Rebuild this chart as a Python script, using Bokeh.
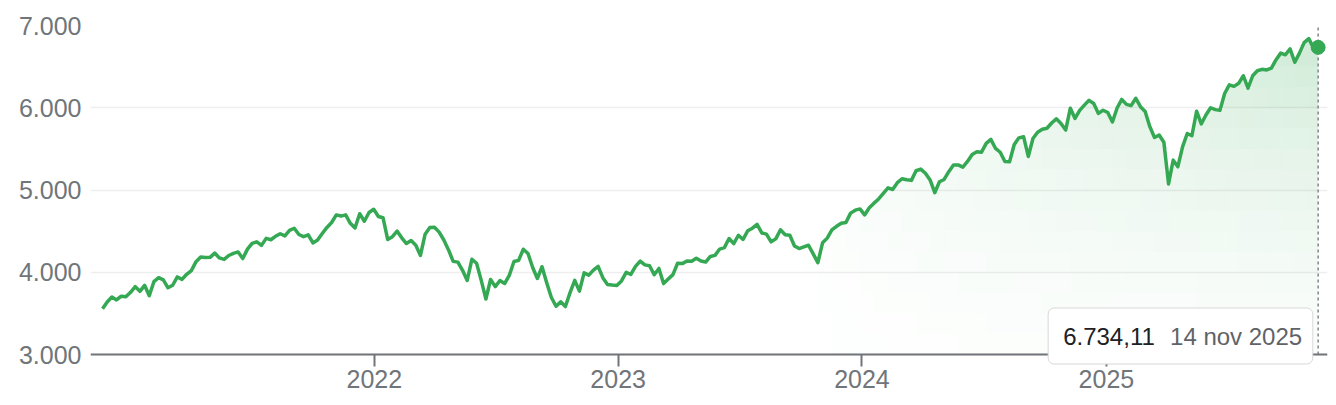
import numpy as np
import pandas as pd
from bokeh.plotting import figure
from bokeh.models import FixedTicker, DatetimeTickFormatter, Label
from bokeh.embed import file_html
from bokeh.resources import INLINE

# ---------------- data ----------------
start_date = "2020-11-20"
end_date = "2025-11-14"
closes_2020 = [3557, 3638, 3699, 3663, 3709, 3703, 3756]
closes_2021 = [3825, 3768, 3841, 3714, 3887, 3934, 3907, 3811, 3842, 3943, 3913, 3975,
               4020, 4129, 4185, 4180, 4181, 4233, 4174, 4156, 4204, 4230, 4247, 4166, 4281,
               4352, 4370, 4327, 4412, 4395, 4437, 4468, 4442, 4509, 4535, 4459, 4433, 4455,
               4357, 4391, 4471, 4545, 4605, 4697, 4683, 4698, 4595, 4538, 4712, 4620, 4726, 4766]
closes_2022 = [4677, 4662, 4398, 4432, 4500, 4419, 4349, 4385, 4329, 4204, 4463, 4543,
               4546, 4488, 4392, 4272, 4132, 4123, 4024, 3901, 4158, 4109, 3901, 3675, 3912,
               3825, 3899, 3863, 3962, 4130, 4145, 4280, 4228, 4058, 3924, 4067, 3873, 3693, 3586,
               3640, 3583, 3752, 3901, 3771, 3993, 3965, 4026, 4072, 3934, 3852, 3845, 3840]
closes_2023 = [3895, 3999, 3973, 4071, 4136, 4090, 4079, 3970, 4046, 3862, 3917, 3971, 4109,
               4105, 4137, 4133, 4169, 4136, 4124, 4192, 4205, 4282, 4299, 4410, 4348, 4450,
               4399, 4505, 4536, 4582, 4478, 4464, 4370, 4406, 4516, 4457, 4450, 4320, 4288,
               4308, 4328, 4224, 4117, 4358, 4415, 4514, 4559, 4595, 4604, 4719, 4755, 4770]
closes_2024 = [4697, 4784, 4840, 4891, 4959, 5026, 5006, 5089, 5137, 5124, 5117, 5234, 5254,
               5204, 5123, 4967, 5100, 5128, 5223, 5303, 5305, 5278, 5347, 5432, 5465, 5460,
               5567, 5615, 5505, 5459, 5346, 5344, 5554, 5634, 5648, 5408, 5626, 5703, 5738,
               5751, 5815, 5865, 5808, 5729, 5995, 5870, 5969, 6032, 6090, 6051, 5931, 5970]
closes_2025 = [5942, 5827, 5997, 6101, 6041, 6026, 6115, 6013, 5955, 5770, 5639, 5668, 5581,
               5074, 5363, 5283, 5525, 5687, 5660, 5958, 5803, 5912, 6000, 5977, 5968, 6173,
               6279, 6260, 6297, 6389, 6238, 6389, 6450, 6467, 6460, 6482, 6584, 6664, 6644,
               6716, 6553, 6664, 6792, 6840, 6728, 6734.11]

y_ticks = [3000, 4000, 5000, 6000, 7000]
y_tick_labels = ["3.000", "4.000", "5.000", "6.000", "7.000"]
x_tick_years = [2022, 2023, 2024, 2025]
tooltip_value = "6.734,11"
tooltip_date = "14 nov 2025"

closes = closes_2020 + closes_2021 + closes_2022 + closes_2023 + closes_2024 + closes_2025
dates = pd.date_range(start_date, end_date, freq="7D")
assert len(dates) == len(closes), (len(dates), len(closes))
vals = np.array(closes, dtype=float)

GREEN = "#34a853"
GREY = "#70757a"
FONT = "Liberation Sans"

# frame spans the whole lower area so the tooltip can overlap the x axis;
# the x axis itself is pinned at y = 3000 (329 px for 4000 units)
Y_BASE = y_ticks[0]
Y_TOP = y_ticks[-1]
FRAME_TOP = 25
AXIS_PX = 354
FIG_H = 403
units_per_px = (Y_TOP - Y_BASE) / (AXIS_PX - FRAME_TOP)
y_bottom = Y_BASE - (FIG_H - AXIS_PX) * units_per_px

p = figure(width=1328, height=FIG_H, x_axis_type="datetime",
           output_backend="svg", toolbar_location=None,
           x_range=(pd.Timestamp("2020-11-02"), pd.Timestamp("2025-11-28")),
           y_range=(y_bottom, Y_TOP),
           min_border_left=90, min_border_right=1, min_border_top=FRAME_TOP, min_border_bottom=0)
p.outline_line_color = None
p.background_fill_color = "white"
p.border_fill_color = "white"

# ---------------- gradient fill (bands x segments) ----------------
fill_start = pd.Timestamp("2023-10-01")
t0 = fill_start.value
t1 = dates[-1].value
bands = np.arange(Y_BASE, Y_TOP + 1, 250)
seg = 3
i0 = int(np.searchsorted(dates.values, fill_start.to_datetime64()))


def h(y):
    return 0.025 + 0.2 * (max(y - 3000, 0) / 3700.0) ** 1.5


for s in range(i0, len(dates) - 1, seg):
    e = min(s + seg, len(dates) - 1)
    xs = dates[s:e + 1]
    v = vals[s:e + 1]
    tm = (xs[0].value + xs[-1].value) / 2
    g = min(max((tm - t0) / (t1 - t0), 0), 1) ** 0.55
    for lo, hi in zip(bands[:-1], bands[1:]):
        if v.max() <= lo:
            continue
        y2 = np.clip(v, lo, hi)
        p.varea(x=xs, y1=np.full(len(xs), float(lo)), y2=y2,
                fill_color=GREEN, fill_alpha=g * h((lo + hi) / 2))

# ---------------- hover guide, line + end marker ----------------
p.segment(x0=[dates[-1]], y0=[Y_BASE], x1=[dates[-1]], y1=[Y_TOP],
          line_color="#80868b", line_dash="3 3", line_width=1.5)
p.line(dates, vals, line_color=GREEN, line_width=3.5, line_join="round")
p.scatter([dates[-1]], [vals[-1]], size=14, fill_color=GREEN, line_color=GREEN)

last_ms = dates[-1].value / 1e6

# ---------------- axes ----------------
p.yaxis.ticker = FixedTicker(ticks=y_ticks)
p.yaxis.major_label_overrides = dict(zip(y_ticks, y_tick_labels))
p.yaxis.axis_line_color = None
p.yaxis.major_tick_line_color = None
p.yaxis.minor_tick_line_color = None
p.yaxis.major_label_standoff = 3
p.yaxis.major_label_text_font = FONT
p.yaxis.major_label_text_font_size = "25px"
p.yaxis.major_label_text_color = GREY

x_ticks = [pd.Timestamp(f"{y}-01-01").value / 1e6 for y in x_tick_years]
p.xaxis.fixed_location = Y_BASE
p.xaxis.ticker = FixedTicker(ticks=x_ticks)
p.xaxis.formatter = DatetimeTickFormatter(years="%Y", months="%Y", days="%Y",
                                          hours="%Y", hourmin="%Y", minutes="%Y")
p.xaxis.axis_line_color = GREY
p.xaxis.axis_line_width = 2
p.xaxis.major_tick_line_color = GREY
p.xaxis.major_tick_line_width = 2
p.xaxis.major_tick_out = 12
p.xaxis.major_tick_in = 0
p.xaxis.minor_tick_line_color = None
p.xaxis.major_label_standoff = 3
p.xaxis.major_label_text_font = FONT
p.xaxis.major_label_text_font_size = "25px"
p.xaxis.major_label_text_color = GREY

p.xgrid.grid_line_color = None
p.ygrid.grid_line_color = "#eeeeee"
p.ygrid.grid_line_width = 1.5

# ---------------- tooltip ----------------
box = Label(x=last_ms, y=Y_BASE, text=tooltip_value, text_color="#202124",
            x_offset=-270, y_offset=18.5, text_align="left", text_baseline="middle",
            text_font=FONT, text_font_size="24px",
            background_fill_color="white", background_fill_alpha=1.0,
            border_line_color="#d8d8d8", border_line_width=1,
            border_radius=6, padding=(15, 158, 20, 19))
date_lbl = Label(x=last_ms, y=Y_BASE, text=tooltip_date, text_color="#5f6368",
                 x_offset=-16, y_offset=18.5, text_align="right", text_baseline="middle",
                 text_font=FONT, text_font_size="24px")
p.add_layout(box)
p.add_layout(date_lbl)

open("out.html", "w").write(file_html(p, INLINE))
